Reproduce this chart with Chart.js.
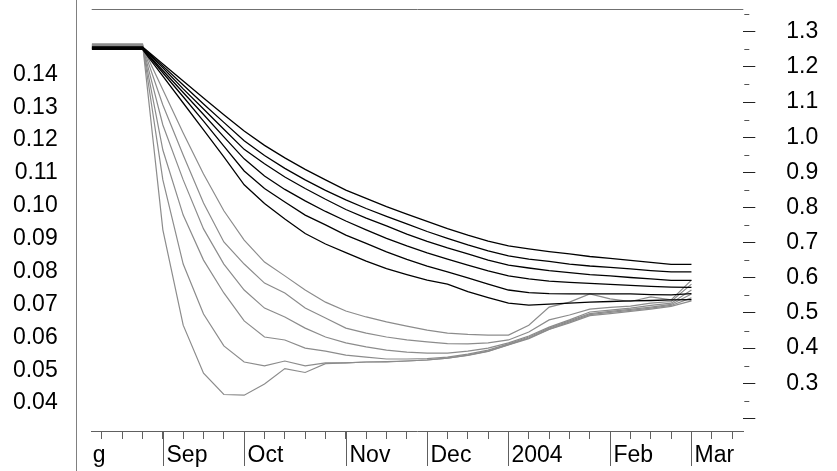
<!DOCTYPE html>
<html>
<head>
<meta charset="utf-8">
<script src="https://cdn.jsdelivr.net/npm/chart.js@4.4.1/dist/chart.umd.min.js"></script>
<style>
  html, body { margin: 0; padding: 0; background: #fff; }
  #wrap { position: relative; width: 837px; height: 471px; }
</style>
</head>
<body>
<div id="wrap"><canvas id="chart" width="837" height="471"></canvas></div>
<script>
// weekly observation points (week 0 = mid Aug 2003), first point sits at the axis start
const weekIndex = [-0.5, 0, 1, 2, 3, 4, 5, 6, 7, 8, 9, 10, 11, 12, 13, 14, 15, 16, 17, 18, 19, 20, 21, 22, 23, 24, 25, 26, 27, 28, 29];

// dark curves (top bundle)
const black1 = [0.1484, 0.1484, 0.1484, 0.1484, 0.1432, 0.1380, 0.1328, 0.1277, 0.1228, 0.1184, 0.1146, 0.1111, 0.1079, 0.1048, 0.1023, 0.0998, 0.0975, 0.0953, 0.0931, 0.0911, 0.0893, 0.0878, 0.0869, 0.0861, 0.0854, 0.0846, 0.0840, 0.0834, 0.0828, 0.0822, 0.0822];
const black2 = [0.1482, 0.1482, 0.1482, 0.1482, 0.1426, 0.1368, 0.1310, 0.1254, 0.1198, 0.1153, 0.1114, 0.1079, 0.1047, 0.1018, 0.0992, 0.0968, 0.0945, 0.0922, 0.0901, 0.0881, 0.0863, 0.0848, 0.0838, 0.0831, 0.0823, 0.0817, 0.0813, 0.0808, 0.0803, 0.0799, 0.0799];
const black3 = [0.1481, 0.1481, 0.1481, 0.1481, 0.1420, 0.1356, 0.1295, 0.1233, 0.1172, 0.1128, 0.1088, 0.1053, 0.1020, 0.0989, 0.0963, 0.0939, 0.0914, 0.0892, 0.0872, 0.0854, 0.0835, 0.0820, 0.0811, 0.0803, 0.0797, 0.0791, 0.0787, 0.0782, 0.0778, 0.0773, 0.0773];
const black4 = [0.1479, 0.1479, 0.1479, 0.1479, 0.1412, 0.1345, 0.1278, 0.1210, 0.1143, 0.1091, 0.1050, 0.1015, 0.0983, 0.0954, 0.0927, 0.0901, 0.0878, 0.0857, 0.0838, 0.0820, 0.0802, 0.0787, 0.0778, 0.0771, 0.0767, 0.0764, 0.0761, 0.0758, 0.0755, 0.0753, 0.0752];
const black5 = [0.1478, 0.1478, 0.1478, 0.1478, 0.1405, 0.1332, 0.1258, 0.1182, 0.1106, 0.1053, 0.1012, 0.0972, 0.0942, 0.0911, 0.0886, 0.0860, 0.0837, 0.0817, 0.0799, 0.0781, 0.0762, 0.0744, 0.0736, 0.0733, 0.0732, 0.0732, 0.0732, 0.0732, 0.0730, 0.0729, 0.0733];
const black6 = [0.1476, 0.1476, 0.1476, 0.1476, 0.1395, 0.1313, 0.1231, 0.1149, 0.1064, 0.1007, 0.0960, 0.0916, 0.0884, 0.0858, 0.0832, 0.0809, 0.0791, 0.0774, 0.0762, 0.0739, 0.0721, 0.0704, 0.0698, 0.0701, 0.0704, 0.0707, 0.0709, 0.0711, 0.0712, 0.0714, 0.0715];

// grey curves (lower bundle, outermost first)
const grey1 = [0.1493, 0.1493, 0.1493, 0.1493, 0.0927, 0.0637, 0.0491, 0.0426, 0.0424, 0.0458, 0.0505, 0.0493, 0.0520, 0.0522, 0.0525, 0.0526, 0.0528, 0.0531, 0.0537, 0.0545, 0.0557, 0.0577, 0.0596, 0.0624, 0.0644, 0.0666, 0.0672, 0.0679, 0.0686, 0.0694, 0.0711];
const grey2 = [0.1491, 0.1491, 0.1491, 0.1491, 0.1079, 0.0823, 0.0671, 0.0574, 0.0525, 0.0513, 0.0528, 0.0513, 0.0522, 0.0522, 0.0525, 0.0525, 0.0528, 0.0531, 0.0537, 0.0546, 0.0558, 0.0578, 0.0598, 0.0625, 0.0647, 0.0669, 0.0676, 0.0682, 0.0689, 0.0697, 0.0720];
const grey3 = [0.1490, 0.1490, 0.1490, 0.1490, 0.1170, 0.0972, 0.0835, 0.0735, 0.0650, 0.0601, 0.0592, 0.0567, 0.0558, 0.0546, 0.0540, 0.0534, 0.0534, 0.0535, 0.0540, 0.0549, 0.0561, 0.0580, 0.0601, 0.0628, 0.0650, 0.0672, 0.0679, 0.0685, 0.0692, 0.0700, 0.0732];
const grey4 = [0.1488, 0.1488, 0.1488, 0.1488, 0.1246, 0.1079, 0.0930, 0.0823, 0.0744, 0.0689, 0.0662, 0.0628, 0.0601, 0.0583, 0.0571, 0.0561, 0.0555, 0.0552, 0.0552, 0.0558, 0.0567, 0.0583, 0.0604, 0.0631, 0.0653, 0.0677, 0.0683, 0.0689, 0.0697, 0.0704, 0.0744];
const grey5 = [0.1487, 0.1487, 0.1487, 0.1487, 0.1307, 0.1155, 0.1009, 0.0890, 0.0823, 0.0765, 0.0735, 0.0689, 0.0659, 0.0628, 0.0613, 0.0601, 0.0592, 0.0586, 0.0581, 0.0580, 0.0583, 0.0592, 0.0616, 0.0653, 0.0668, 0.0686, 0.0691, 0.0695, 0.0704, 0.0709, 0.0762];
const grey6 = [0.1485, 0.1485, 0.1485, 0.1485, 0.1353, 0.1222, 0.1097, 0.0985, 0.0896, 0.0829, 0.0787, 0.0744, 0.0707, 0.0680, 0.0662, 0.0647, 0.0634, 0.0622, 0.0613, 0.0609, 0.0607, 0.0607, 0.0637, 0.0692, 0.0707, 0.0732, 0.0717, 0.0709, 0.0723, 0.0714, 0.0774];

const blackSeries = [black1, black2, black3, black4, black5, black6];
const greySeries = [grey1, grey2, grey3, grey4, grey5, grey6];

// axes
const leftTicks = [0.04, 0.05, 0.06, 0.07, 0.08, 0.09, 0.10, 0.11, 0.12, 0.13, 0.14];
const rightTicks = [0.2, 0.3, 0.4, 0.5, 0.6, 0.7, 0.8, 0.9, 1.0, 1.1, 1.2, 1.3];
const rightMinorTicks = [0.25, 0.35, 0.45, 0.55, 0.65, 0.75, 0.85, 0.95, 1.05, 1.15, 1.25, 1.35];
const weekTicks = [0, 1, 2, 3, 4, 5, 6, 7, 8, 9, 10, 11, 12, 13, 14, 15, 16, 17, 18, 19, 20, 21, 22, 23, 24, 25, 26, 27, 28, 29, 30, 31];
const monthTicks = [-2, 3, 7, 12, 16, 20, 25, 29];
const monthLabels = ['Aug', 'Sep', 'Oct', 'Nov', 'Dec', '2004', 'Feb', 'Mar'];

const FAMILY = '"Liberation Sans", Arial, sans-serif';
const FONT_SIZE = 23;

function toPoints(values) {
  return values.map((v, i) => ({ x: weekIndex[i], y: v }));
}

const datasets = [];
blackSeries.forEach((s, i) => {
  datasets.push({
    label: 'black' + (i + 1),
    data: toPoints(s),
    borderColor: '#000000',
    borderWidth: 1.3,
    yAxisID: 'y'
  });
});
greySeries.forEach((s, i) => {
  datasets.push({
    label: 'grey' + (i + 1),
    data: toPoints(s),
    borderColor: '#8c8c8c',
    borderWidth: 1.2,
    yAxisID: 'y'
  });
});

// the axes fix their own size; drop the label overhang padding
function fixVertical(width) {
  return s => {
    s.width = width;
    s.paddingTop = 0;
    s.paddingBottom = 0;
  };
}

// bits Chart.js axes can't do: frame lines, minor ticks, long month ticks + labels
const framePlugin = {
  id: 'frame',
  afterDraw(chart) {
    const { ctx, chartArea: a, scales } = chart;
    const x = scales.x;
    const y2 = scales.y2;
    ctx.save();
    ctx.lineWidth = 1;

    ctx.strokeStyle = '#808080';
    ctx.beginPath();
    ctx.moveTo(76.5, 0);
    ctx.lineTo(76.5, 471);
    ctx.stroke();

    ctx.strokeStyle = '#707070';
    ctx.beginPath();
    ctx.moveTo(a.left, Math.round(a.top) + 0.5);
    ctx.lineTo(a.right, Math.round(a.top) + 0.5);
    ctx.stroke();

    ctx.strokeStyle = '#555555';
    rightMinorTicks.forEach(v => {
      const py = Math.round(y2.getPixelForValue(v)) + 0.5;
      if (py < a.top || py > a.bottom) return;
      ctx.beginPath();
      ctx.moveTo(a.right + 1, py);
      ctx.lineTo(a.right + 6, py);
      ctx.stroke();
    });

    ctx.beginPath();
    ctx.rect(a.left, 0, a.right - a.left, 471);
    ctx.clip();
    ctx.strokeStyle = '#606060';
    ctx.fillStyle = '#000000';
    ctx.font = FONT_SIZE + 'px ' + FAMILY;
    ctx.textAlign = 'left';
    ctx.textBaseline = 'alphabetic';
    monthTicks.forEach((k, i) => {
      const px = Math.round(x.getPixelForValue(k)) + 0.5;
      ctx.beginPath();
      ctx.moveTo(px, a.bottom);
      ctx.lineTo(px, 466);
      ctx.stroke();
      ctx.fillText(monthLabels[i], px + 3, 462);
    });
    ctx.restore();
  }
};

const ctx = document.getElementById('chart').getContext('2d');
const chart = new Chart(ctx, {
  type: 'line',
  data: { datasets },
  options: {
    responsive: false,
    animation: false,
    layout: { padding: { top: 9, left: 0, right: 0, bottom: 0 } },
    elements: {
      point: { radius: 0 },
      line: { tension: 0 }
    },
    plugins: {
      legend: { display: false },
      tooltip: { enabled: false }
    },
    scales: {
      x: {
        type: 'linear',
        position: 'bottom',
        min: -0.5,
        max: 31.55,
        afterBuildTicks: s => { s.ticks = weekTicks.map(v => ({ value: v })); },
        afterFit: s => { s.height = 40; s.paddingLeft = 0; s.paddingRight = 0; },
        grid: { drawOnChartArea: false, drawTicks: true, tickLength: 8, tickColor: '#606060' },
        border: { display: true, color: '#606060', width: 1 },
        ticks: { display: false }
      },
      y: {
        type: 'linear',
        position: 'left',
        min: 0.0315,
        max: 0.1599,
        afterBuildTicks: s => { s.ticks = leftTicks.map(v => ({ value: v })); },
        afterFit: fixVertical(91.7),
        grid: { display: false, drawTicks: false },
        border: { display: false },
        ticks: {
          padding: 34,
          color: '#000000',
          font: { family: FAMILY, size: FONT_SIZE },
          callback: v => v.toFixed(2)
        }
      },
      y2: {
        type: 'linear',
        position: 'right',
        min: 0.1643,
        max: 1.3646,
        afterBuildTicks: s => { s.ticks = rightTicks.map(v => ({ value: v })); },
        afterFit: fixVertical(93.7),
        grid: { drawOnChartArea: false, drawTicks: true, tickLength: 12, tickColor: '#222222' },
        border: { display: false },
        ticks: {
          padding: 31,
          color: '#000000',
          font: { family: FAMILY, size: FONT_SIZE },
          callback: v => (v < 0.25 ? '' : v.toFixed(1))
        }
      }
    }
  },
  plugins: [framePlugin]
});
</script>
</body>
</html>
